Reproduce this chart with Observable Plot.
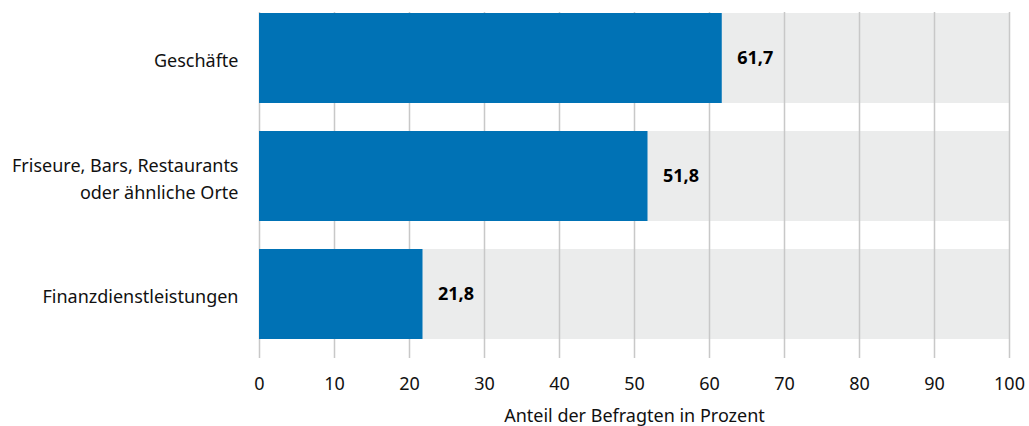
<!DOCTYPE html>
<html><head><meta charset="utf-8">
<script src="https://cdn.jsdelivr.net/npm/d3@7"></script>
<script src="https://cdn.jsdelivr.net/npm/@observablehq/plot@0.6"></script>
<style>body{margin:0;background:#fff;font-family:"Noto Sans",sans-serif}</style>
</head><body><div id="chart"></div>
<script>
const categories = ["Geschäfte", "Friseure, Bars, Restaurants\noder ähnliche Orte", "Finanzdienstleistungen"];
const values = [61.7, 51.8, 21.8];
const ticks = [0, 10, 20, 30, 40, 50, 60, 70, 80, 90, 100];
const axisLabel = "Anteil der Befragten in Prozent";

const data = categories.map((c, i) => ({cat: c, value: values[i]}));
const fmt = v => v.toFixed(1).replace(".", ",");

const chart = Plot.plot({
  width: 1029,
  height: 426,
  marginLeft: 259,
  marginRight: 20,
  marginTop: 12,
  marginBottom: 68,
  style: {fontFamily: "Noto Sans, sans-serif", fontSize: "18px", color: "#111", background: "#fff"},
  x: {domain: [0, 100]},
  y: {domain: categories, range: [12, 341], paddingInner: 0.235, paddingOuter: 0},
  marks: [
    Plot.barX(data, {y: "cat", x1: 0, x2: 100, fill: "#ebecec"}),
    Plot.ruleX(ticks, {stroke: "#c8c8c8", strokeWidth: 1.5}),
    Plot.barX(data, {y: "cat", x1: 0, x2: "value", fill: "#0072b5"}),
    Plot.text(data, {y: "cat", x: "value", text: d => fmt(d.value), textAnchor: "start", dx: 15, fontWeight: "bold", fontSize: 18, fill: "#000"}),
    Plot.axisY({tickSize: 0, tickPadding: 21, fontSize: 18, lineHeight: 1.5, label: null}),
    Plot.axisX({ticks: ticks, tickSize: 0, tickPadding: 19, fontSize: 18, label: axisLabel, labelAnchor: "center", labelArrow: "none", labelOffset: 63})
  ]
});
document.getElementById("chart").appendChild(chart);
</script></body></html>
